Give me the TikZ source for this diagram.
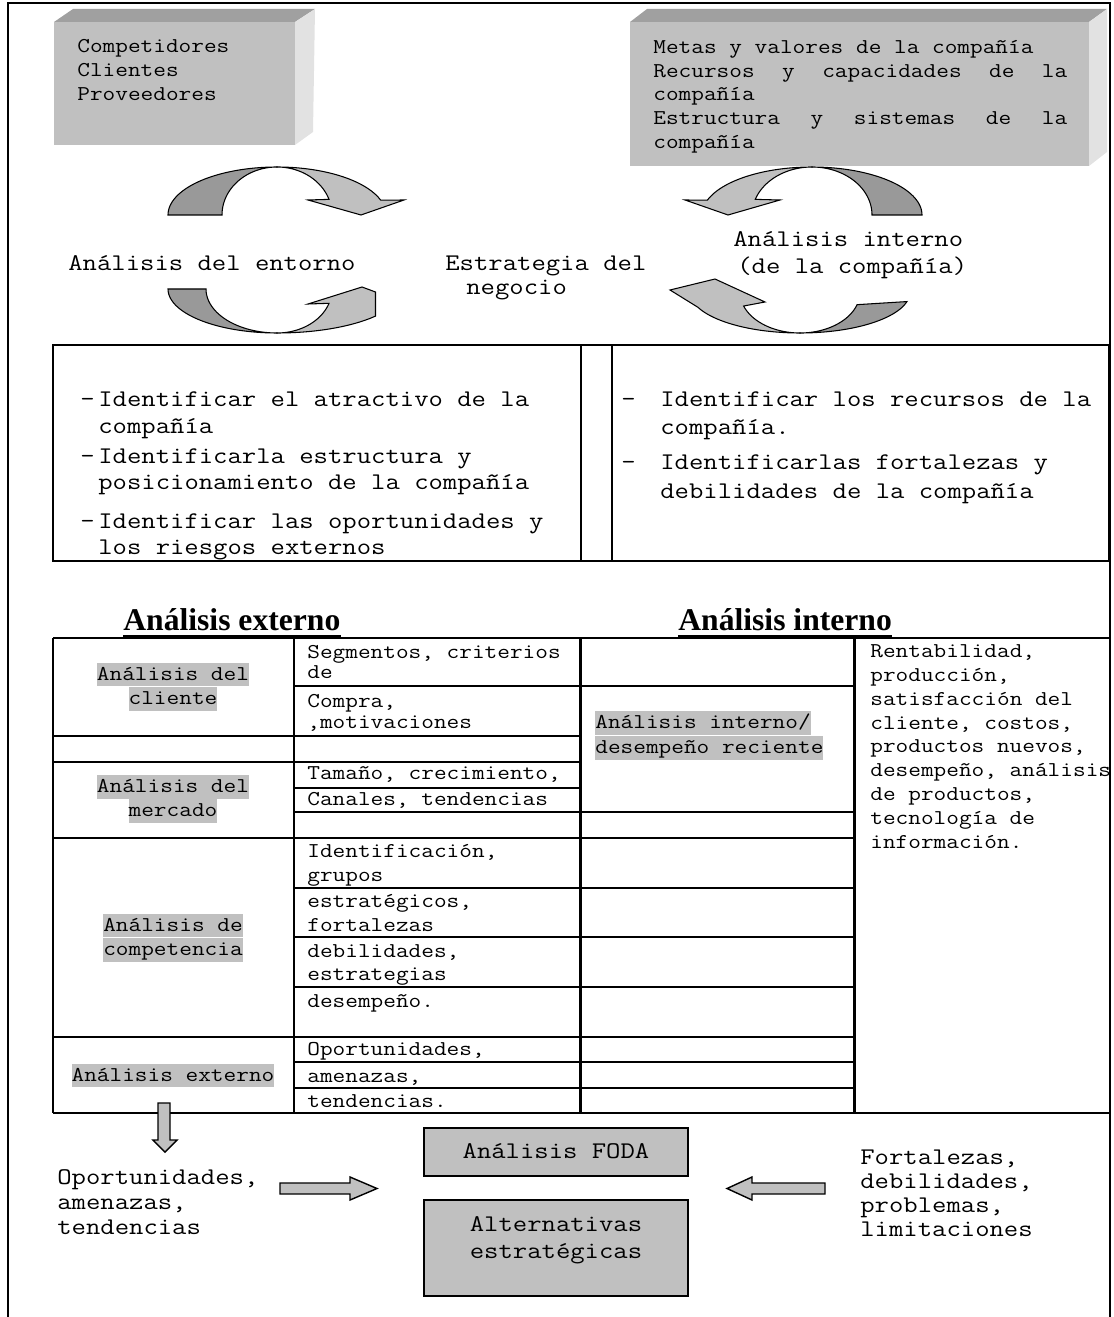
\documentclass[tikz,border=0pt]{standalone}
\usepackage{fontspec}
\setmainfont{Liberation Serif}
\setmonofont[FakeStretch=1.167]{Latin Modern Mono}
\usetikzlibrary{positioning}
\definecolor{boxgray}{RGB}{192,192,192}
\definecolor{bevelgray}{RGB}{160,160,160}
\definecolor{sidegray}{RGB}{226,226,226}
\definecolor{ribbondark}{RGB}{153,153,153}
\definecolor{hlgray}{RGB}{192,192,192}

\begin{document}
\begin{tikzpicture}[x=0.02cm, y=-0.02cm,
  txt/.style={font=\ttfamily\fontsize{12}{14}\selectfont, inner sep=0pt, text height=10pt, text depth=3.6pt, anchor=west},
  big/.style={font=\ttfamily\fontsize{13.6}{16}\selectfont, inner sep=0pt, text height=11.3pt, text depth=4.1pt, anchor=west},
  hl/.style={txt, fill=hlgray, anchor=center},
  gridline/.style={line width=1.2pt},
  ribbon/.style={draw=black, line width=0.6pt},
  block/.style={draw=black, line width=0.8pt, fill=boxgray},
  heading/.style={font=\bfseries\fontsize{18}{20}\selectfont, inner sep=0pt, anchor=base west}]
\useasboundingbox (0,0) rectangle (1113,1317);

% Frame
\draw[line width=1.4pt] (8,1317) -- (8,3) -- (1110,3) -- (1110,1317);

% Left 3D box
\fill[boxgray] (54,22) rectangle (295,145);
\fill[bevelgray] (54,22) -- (73,9) -- (315,9) -- (295,22) -- cycle;
\fill[sidegray] (295,22) -- (315,9) -- (313,132) -- (295,145) -- cycle;
\foreach \t [count=\i] in {Competidores, Clientes, Proveedores}
  \node[txt] (ext\i) at (77,{23+24*\i}) {\t};

% Right 3D box
\fill[boxgray] (630,22) rectangle (1089,166);
\fill[bevelgray] (630,22) -- (647,9) -- (1107,9) -- (1089,22) -- cycle;
\fill[sidegray] (1089,22) -- (1107,9) -- (1107,152) -- (1089,166) -- cycle;
\node[txt] (int1) at (653,48) {Metas y valores de la compañía};
\node[txt] (int2) at (653,72) {\makebox[8.28cm][l]{Recursos \hfill y \hfill capacidades \hfill de \hfill la}};
\node[txt] (int3) at (653,95) {compañía};
\node[txt] (int4) at (653,119) {\makebox[8.28cm][l]{Estructura \hfill y \hfill sistemas \hfill de \hfill la}};
\node[txt] (int5) at (653,143) {compañía};

% Curved arrows, left
\filldraw[ribbon, fill=ribbondark] plot[domain=180:90, samples=40] ({277+109*cos(\x)},{215-48*sin(\x)})
  -- plot[domain=90:180, samples=40] ({277+55*cos(\x)},{215-48*sin(\x)}) -- cycle;
\filldraw[ribbon, fill=boxgray] plot[domain=90:18, samples=40] ({277+109*cos(\x)},{215-48*sin(\x)})
  -- (404,200) -- (361,215) -- (308,200)
  -- plot[domain=19:90, samples=40] ({277+55*cos(\x)},{215-48*sin(\x)}) -- cycle;
\filldraw[ribbon, fill=ribbondark] plot[domain=180:90, samples=40] ({277+109*cos(\x)},{289+44*sin(\x)})
  -- plot[domain=90:180, samples=40] ({277+71*cos(\x)},{289+44*sin(\x)}) -- cycle;
\filldraw[ribbon, fill=boxgray] plot[domain=90:38, samples=40] ({277+125*cos(\x)},{289+44*sin(\x)})
  -- (375.5,292) -- (362,287) -- (308,304)
  -- plot[domain=19:90, samples=40] ({277+55*cos(\x)},{289+44*sin(\x)}) -- cycle;

% Curved arrows, right
\filldraw[ribbon, fill=ribbondark] plot[domain=0:90, samples=40] ({812+110*cos(\x)},{215-48*sin(\x)})
  -- plot[domain=90:0, samples=40] ({812+60*cos(\x)},{215-48*sin(\x)}) -- cycle;
\filldraw[ribbon, fill=boxgray] plot[domain=90:162, samples=40] ({812+110*cos(\x)},{215-48*sin(\x)})
  -- (685,200) -- (728,215) -- (780,200)
  -- plot[domain=161:90, samples=40] ({812+60*cos(\x)},{215-48*sin(\x)}) -- cycle;
\filldraw[ribbon, fill=ribbondark] plot[domain=90:13.5, samples=40] ({800+110*cos(\x)},{292+41*sin(\x)})
  -- plot[domain=18:90, samples=40] ({800+60*cos(\x)},{292+41*sin(\x)}) -- cycle;
\filldraw[ribbon, fill=boxgray] plot[domain=90:158, samples=40] ({800+110*cos(\x)},{292+41*sin(\x)})
  -- (670,290) -- (715,279) -- (765,302)
  -- plot[domain=160:90, samples=40] ({800+60*cos(\x)},{292+41*sin(\x)}) -- cycle;

% Labels between the arrows
\node[big] (entorno) at (68,264) {Análisis del entorno};
\node[big] (estr1) at (445,264) {Estrategia del};
\node[big] (estr2) at (466,288) {negocio};
\node[big] (intlab1) at (733,240) {Análisis interno};
\node[big] (intlab2) at (737,267) {(de la compañía)};

% Bullet box
\draw[gridline] (53,345) rectangle (1109,561);
\draw[gridline] (581,345) -- (581,561);
\draw[gridline] (612,345) -- (612,561);
\foreach \y/\t in {400/{Identificar el atractivo de la}, 427/{compañía}, 457/{Identificarla estructura y},
    483/{posicionamiento de la compañía}, 522/{Identificar las oportunidades y}, 548/{los riesgos externos}}
  \node[big] (la\y) at (98,\y) {\t};
\foreach \y/\t in {400/{Identificar los recursos de la}, 428/{compañía.}, 463/{Identificarlas fortalezas y},
    492/{debilidades de la compañía}}
  \node[big] (ra\y) at (660,\y) {\t};
\node[big] (ld1) at (80,400) {-};
\node[big] (ld2) at (80,457) {-};
\node[big] (ld3) at (80,522) {-};
\node[big] (rd1) at (621,400) {-};
\node[big] (rd2) at (621,463) {-};

% Headings
\node[heading] (hext) at (123,630) {Análisis externo};
\node[heading] (hint) at (678,630) {Análisis interno};
\draw[line width=1.2pt] ([yshift=-2.8pt]hext.south west) -- ([yshift=-2.8pt]hext.south east);
\draw[line width=1.2pt] ([yshift=-2.8pt]hint.south west) -- ([yshift=-2.8pt]hint.south east);

% Table grid
\draw[gridline] (53,638) -- (1110,638);
\draw[gridline] (53,1113) -- (1110,1113);
\foreach \x in {53,294,580.5,854.5}
  \draw[gridline] (\x,638) -- (\x,1113);
\foreach \y in {736,762,838,1037}
  \draw[gridline] (53,\y) -- (294,\y);
\foreach \y in {686,736,762,788,812,838,888,937,987,1037,1062,1088}
  \draw[gridline] (294,\y) -- (580.5,\y);
\foreach \y in {686,812,838,888,937,987,1037,1062,1088}
  \draw[gridline] (580.5,\y) -- (854.5,\y);

% Column 1
\node[hl] (c1a) at (173,674.5) {Análisis del};
\node[hl] (c1b) at (173,699) {cliente};
\node[hl] (c1c) at (173,787) {Análisis del};
\node[hl] (c1d) at (173,811) {mercado};
\node[hl] (c1e) at (173,925.5) {Análisis de};
\node[hl] (c1f) at (173,950) {competencia};
\node[hl] (c1g) at (173,1075.5) {Análisis externo};

% Column 2
\foreach \y/\t in {653/{Segmentos, criterios}, 673/{de}, 702/{Compra,}, 723/{,motivaciones},
    774/{Tamaño, crecimiento,}, 800/{Canales, tendencias}, 852/{Identificación,}, 876/{grupos},
    902/{estratégicos,}, 926/{fortalezas}, 952/{debilidades,}, 975/{estrategias}, 1002/{desempeño.},
    1050/{Oportunidades,}, 1077/{amenazas,}, 1102/{tendencias.}}
  \node[txt] (c2\y) at (307,\y) {\t};

% Column 3
\node[hl, anchor=west] (c3a) at (595,723) {Análisis interno/};
\node[hl, anchor=west] (c3b) at (595,748) {desempeño reciente};

% Column 4
\foreach \t [count=\i from 0] in {{Rentabilidad,}, {producción,}, {satisfacción del}, {cliente, costos,},
    {productos nuevos,}, {desempeño, análisis}, {de productos,}, {tecnología de}, {información.}}
  \node[txt] (c4\i) at (870,{652+23.8*\i}) {\t};

% Bottom block arrows
\draw[block] (158,1103) -- (170,1103) -- (170,1140) -- (177,1140) -- (165,1152) -- (153,1140) -- (158,1140) -- cycle;
\draw[block] (280,1183) -- (350,1183) -- (350,1177) -- (377,1188.5) -- (350,1200) -- (350,1194) -- (280,1194) -- cycle;
\draw[block] (825,1183) -- (752,1183) -- (752,1177) -- (727,1188.5) -- (752,1200) -- (752,1194) -- (825,1194) -- cycle;

% FODA boxes
\node[draw, line width=1.2pt, fill=boxgray, minimum width=5.28cm, minimum height=0.96cm] (foda) at (556,1152) {};
\node[big, anchor=center] (fodatxt) at (foda) {Análisis FODA};
\node[draw, line width=1.2pt, fill=boxgray, minimum width=5.28cm, minimum height=1.92cm] (alt) at (556,1248) {};
\node[big, anchor=center] (alt1) at (556,1225) {Alternativas};
\node[big, anchor=center] (alt2) at (556,1252) {estratégicas};

% Side texts
\foreach \t [count=\i from 0] in {{Oportunidades,}, {amenazas,}, {tendencias}}
  \node[big] (op\i) at (57,{1178+25*\i}) {\t};
\foreach \t [count=\i from 0] in {{Fortalezas,}, {debilidades,}, {problemas,}, {limitaciones}}
  \node[big] (fd\i) at (860,{1158+24*\i}) {\t};
\end{tikzpicture}
\end{document}
